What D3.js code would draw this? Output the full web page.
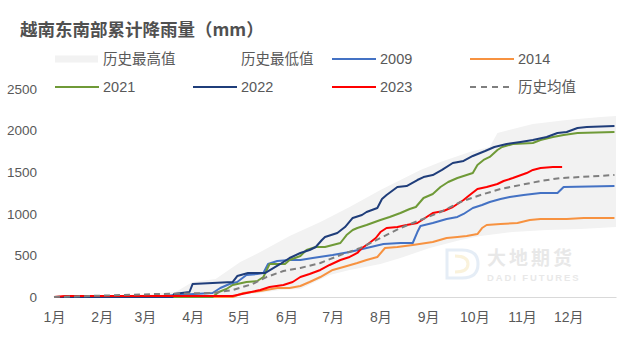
<!DOCTYPE html>
<html><head><meta charset="utf-8">
<script src="https://cdn.jsdelivr.net/npm/d3@7"></script>
<style>
html,body{margin:0;padding:0;background:#fff;}
svg{display:block;}
text{font-family:"Liberation Sans","Noto Sans CJK SC",sans-serif;}
</style></head>
<body>
<svg id="chart" width="622" height="340"></svg>
<script>
// ---------- data ----------
const title = "越南东南部累计降雨量（mm）";
const monthLabels = ["1月","2月","3月","4月","5月","6月","7月","8月","9月","10月","11月","12月"];
const monthStartDays = [0,31,59,90,120,151,181,212,243,273,304,334];
const yTicks = [0,500,1000,1500,2000,2500];

const daysMax = [0,62,79,90,105,121,134,153,173,192,212,225,238,251,270,283,288,311,333,355,365];
const valsMax = [0,36,60,180,216,421,541,733,901,1082,1286,1406,1527,1623,1743,1803,1971,2079,2128,2164,2176];

const daysMin = [0,114,147,160,179,192,212,225,244,264,277,298,320,342,365];
const valsMin = [0,0,84,96,264,325,397,469,589,685,733,781,805,817,841];

const days2009 = [0,62,79,103,108,114,119,125,132,136,139,145,153,160,168,181,192,203,214,225,233,236,238,246,255,262,266,268,272,278,283,290,296,305,316,327,331,364];
const vals2009 = [0,0,24,48,108,156,180,264,276,288,397,433,445,445,469,505,541,589,637,649,649,781,853,889,938,962,998,1022,1070,1106,1142,1178,1202,1226,1250,1250,1322,1334];

const days2014 = [0,116,123,134,145,153,160,166,173,181,188,197,203,210,215,223,233,246,255,262,268,275,278,281,290,301,309,316,333,344,364];
const vals2014 = [0,0,48,72,108,108,132,180,240,325,361,409,445,481,589,601,625,661,709,721,733,757,829,865,877,889,926,938,938,950,950];

const days2021 = [0,103,107,112,116,125,132,136,140,150,153,160,164,170,176,186,190,194,197,203,212,218,225,231,235,240,246,251,256,262,268,272,275,279,283,288,291,298,311,316,324,331,340,364];
const vals2021 = [0,0,60,96,144,180,192,240,397,397,445,493,565,601,601,649,745,805,829,865,926,962,1010,1058,1082,1190,1238,1322,1382,1430,1466,1490,1587,1647,1683,1767,1803,1839,1851,1887,1923,1947,1971,1983];

const days2022 = [0,77,78,88,90,116,119,126,137,147,153,160,166,170,174,176,184,189,194,200,203,210,213,216,223,229,236,240,246,252,259,266,272,280,286,294,303,311,320,327,333,340,346,364];
const vals2022 = [0,0,36,60,156,180,252,288,288,397,469,529,565,601,685,721,769,841,950,986,1022,1070,1178,1226,1322,1334,1406,1442,1466,1527,1611,1635,1695,1755,1803,1839,1863,1887,1923,1971,1983,2031,2043,2055];

const days2023 = [0,7,116,125,134,140,149,155,160,166,173,179,186,192,197,200,204,209,212,216,223,229,236,242,246,253,259,266,270,275,281,288,292,298,307,311,316,324,330];
const vals2023 = [0,12,12,48,84,120,144,180,240,276,325,385,445,481,529,589,637,709,781,829,841,865,889,962,1010,1034,1082,1166,1226,1298,1322,1358,1394,1430,1490,1527,1551,1563,1563];

const daysAvg = [0,67,103,116,129,138,149,160,173,186,199,212,225,238,251,264,277,290,303,316,329,342,364];
const valsAvg = [0,36,48,84,156,240,313,349,409,505,589,709,829,926,1022,1142,1226,1298,1346,1394,1430,1442,1466];

// ---------- build ----------
const zip = (ds, vs) => ds.map((d, i) => ({day: d, v: vs[i]}));
const lines = [
  {name:"2009", color:"#4472C4", data: zip(days2009, vals2009)},
  {name:"2014", color:"#F79240", data: zip(days2014, vals2014)},
  {name:"2021", color:"#6F9A37", data: zip(days2021, vals2021)},
  {name:"2022", color:"#1F3D7A", data: zip(days2022, vals2022)},
  {name:"2023", color:"#FF0000", data: zip(days2023, vals2023)},
  {name:"历史均值", color:"#7F7F7F", dash:"6,4", data: zip(daysAvg, valsAvg)}
];

const svg = d3.select("#chart");
const x = d3.scaleLinear().domain([0,365]).range([54,616]);
const y = d3.scaleLinear().domain([0,2500]).range([297,89]);

// bands (Excel style: max area grey, min area white)
const area = d3.area().x(d => x(d.day)).y0(y(0)).y1(d => y(d.v));
svg.append("path").datum(zip(daysMax, valsMax)).attr("d", area).attr("fill", "#F2F2F2");
svg.append("path").datum(zip(daysMin, valsMin)).attr("d", area).attr("fill", "#FFFFFF");

// watermark (faint)
const wm = svg.append("g").attr("opacity", 0.4);
wm.append("path")
  .attr("d", "M447,250 L462,250 Q478,250 478,264 Q478,278 462,278 L447,278 Z")
  .attr("fill", "none").attr("stroke", "#BFD3EA").attr("stroke-width", 3);
wm.append("path")
  .attr("d", "M455,256 Q468,256 468,264 Q468,272 455,272")
  .attr("fill", "none").attr("stroke", "#F3DFA8").attr("stroke-width", 3);
wm.append("text").attr("x", 487).attr("y", 265).text("大地期货")
  .attr("font-size", 19).attr("font-weight", "bold").attr("letter-spacing", 3)
  .attr("fill", "#C8C8C8").style("font-family", "'Noto Sans CJK SC',sans-serif");
wm.append("text").attr("x", 487).attr("y", 281).text("DADI FUTURES")
  .attr("font-size", 9.5).attr("font-weight", "bold").attr("letter-spacing", 1.9)
  .attr("fill", "#C8C8C8");

// axes
const xAxis = d3.axisBottom(x).tickValues(monthStartDays)
  .tickFormat((d, i) => monthLabels[i]).tickSize(0).tickPadding(15);
const gx = svg.append("g").attr("transform", `translate(0,${y(0)})`).call(xAxis);
gx.select(".domain").attr("stroke", "#D9D9D9").attr("stroke-width", 1);
gx.selectAll("text").attr("font-size", 14).attr("fill", "#595959")
  .style("font-family", "'Liberation Sans','Noto Sans CJK SC',sans-serif");

const yAxis = d3.axisLeft(y).tickValues(yTicks).tickFormat(d3.format("d")).tickSize(0).tickPadding(17);
const gy = svg.append("g").attr("transform", `translate(${x(0)},0)`).call(yAxis);
gy.select(".domain").remove();
gy.selectAll("text").attr("font-size", 13.5).attr("fill", "#595959")
  .style("font-family", "'Liberation Sans',sans-serif");

// lines
const line = d3.line().x(d => x(d.day)).y(d => y(d.v));
lines.forEach(s => {
  svg.append("path").datum(s.data).attr("d", line)
    .attr("fill", "none").attr("stroke", s.color).attr("stroke-width", 2)
    .attr("stroke-linejoin", "round")
    .attr("stroke-dasharray", s.dash || null);
});

// title
svg.append("text").attr("x", 20).attr("y", 36).text(title)
  .attr("font-size", 17.5).attr("font-weight", "bold").attr("fill", "#505050")
  .style("font-family", "'Noto Sans CJK SC',sans-serif");

// legend
const colSwatch = [55, 193, 332, 470];
const rowY = [59, 87];
const legendItems = [
  {label:"历史最高值", kind:"rect", fill:"#F2F2F2", col:0, row:0},
  {label:"历史最低值", kind:"rect", fill:"#FFFFFF", col:1, row:0},
  {label:"2009", kind:"line", color:lines[0].color, col:2, row:0},
  {label:"2014", kind:"line", color:lines[1].color, col:3, row:0},
  {label:"2021", kind:"line", color:lines[2].color, col:0, row:1},
  {label:"2022", kind:"line", color:lines[3].color, col:1, row:1},
  {label:"2023", kind:"line", color:lines[4].color, col:2, row:1},
  {label:"历史均值", kind:"line", color:lines[5].color, dash:"6,5", col:3, row:1}
];
legendItems.forEach(it => {
  const x0 = colSwatch[it.col], yy = rowY[it.row];
  if (it.kind === "rect") {
    svg.append("rect").attr("x", x0).attr("y", yy - 3.5).attr("width", 43).attr("height", 7).attr("fill", it.fill);
  } else {
    svg.append("line").attr("x1", x0).attr("x2", x0 + 44).attr("y1", yy).attr("y2", yy)
      .attr("stroke", it.color).attr("stroke-width", 2).attr("stroke-dasharray", it.dash || null);
  }
  svg.append("text").attr("x", x0 + 48).attr("y", yy).attr("dy", "0.36em").text(it.label)
    .attr("font-size", 14.5).attr("fill", "#595959")
    .style("font-family", "'Liberation Sans','Noto Sans CJK SC',sans-serif");
});
</script>
</body></html>
